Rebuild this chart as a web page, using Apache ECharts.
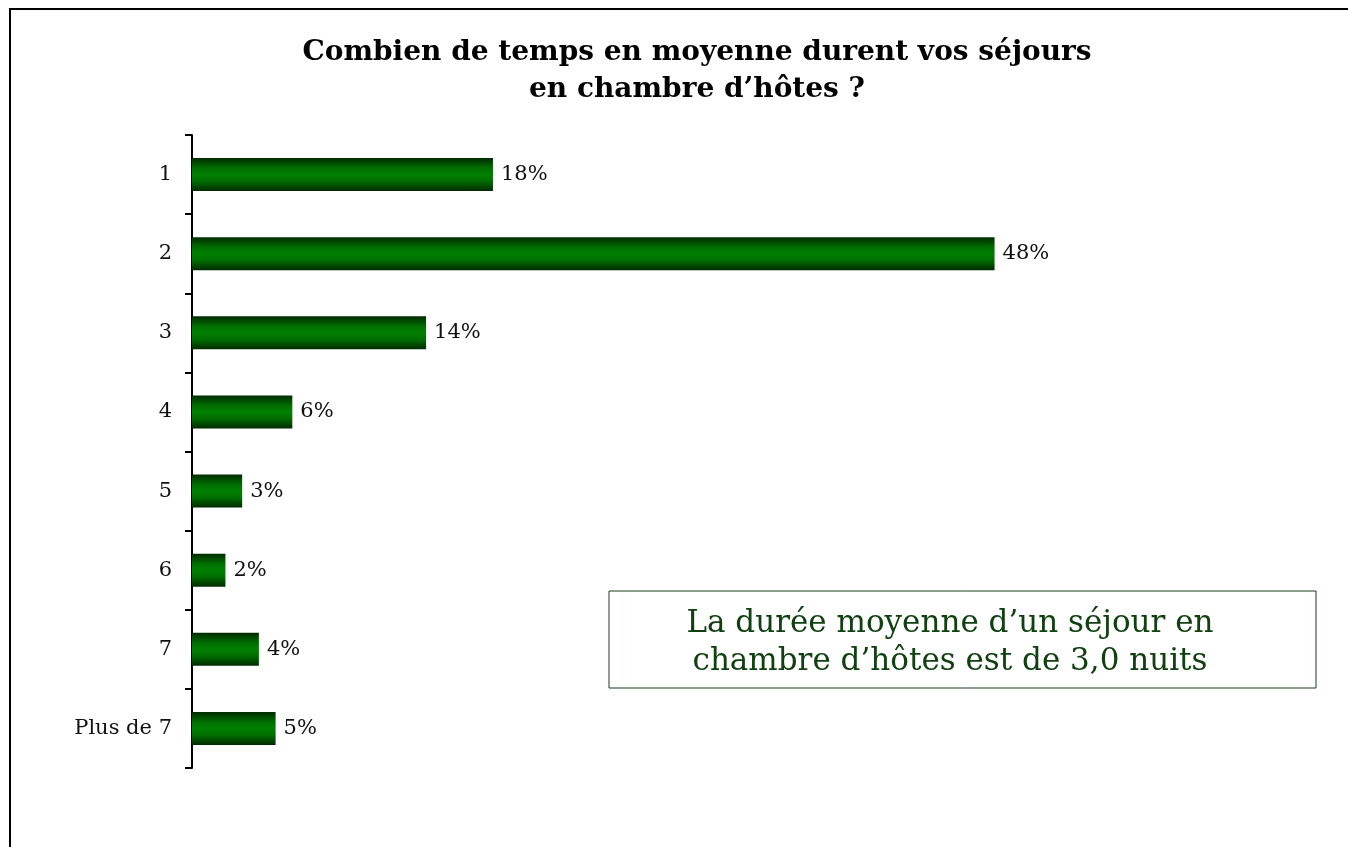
<!DOCTYPE html>
<html>
<head>
<meta charset="utf-8">
<script src="https://cdn.jsdelivr.net/npm/echarts@6/dist/echarts.min.js"></script>
<style>
  html, body { margin: 0; padding: 0; background: #fff; }
  #chart { width: 1348px; height: 847px; }
</style>
</head>
<body>
<div id="chart"></div>
<script>
// nights per stay
const categories = ['1', '2', '3', '4', '5', '6', '7', 'Plus de 7']
const shares = [18, 48, 14, 6, 3, 2, 4, 5]

const titleText = 'Combien de temps en moyenne durent vos séjours\nen chambre d’hôtes ?'
const noteText = 'La durée moyenne d’un séjour en\nchambre d’hôtes est de 3,0 nuits'

const chart = echarts.init(document.getElementById('chart'))

const barGradient = new echarts.graphic.LinearGradient(0, 0, 0, 1, [
  { offset: 0, color: '#002a00' },
  { offset: 0.3, color: '#006e00' },
  { offset: 0.5, color: '#008000' },
  { offset: 0.7, color: '#006e00' },
  { offset: 1, color: '#002a00' }
])

chart.setOption({
  backgroundColor: '#fff',
  animation: false,
  grid: {
    left: 192,
    top: 135,
    width: 836,
    height: 633
  },
  xAxis: {
    type: 'value',
    min: 0,
    max: 50,
    show: false
  },
  yAxis: {
    type: 'category',
    data: categories,
    inverse: true,
    axisLine: { lineStyle: { color: '#000', width: 2 } },
    axisTick: { show: true, length: 7, lineStyle: { color: '#000', width: 2 } },
    axisLabel: {
      color: '#111',
      fontFamily: 'DejaVu Serif',
      fontSize: 21,
      margin: 20
    },
    splitLine: { show: false }
  },
  series: [
    {
      type: 'bar',
      data: shares,
      barWidth: 33,
      itemStyle: { color: barGradient },
      label: {
        show: true,
        position: 'right',
        distance: 8,
        formatter: '{c}%',
        color: '#111',
        fontFamily: 'DejaVu Serif',
        fontSize: 21
      }
    }
  ],
  graphic: [
    {
      type: 'rect',
      silent: true,
      shape: { x: 10, y: 9, width: 1400, height: 900 },
      style: { fill: 'none', stroke: '#000', lineWidth: 2 }
    },
    {
      type: 'text',
      silent: true,
      x: 697,
      y: 34,
      style: {
        text: titleText,
        fill: '#000',
        font: 'bold 28px "DejaVu Serif"',
        textAlign: 'center',
        lineHeight: 37
      }
    },
    {
      type: 'rect',
      silent: true,
      shape: { x: 609, y: 591, width: 707, height: 97 },
      style: { fill: '#fff', stroke: '#1a3d1a', lineWidth: 1 }
    },
    {
      type: 'text',
      silent: true,
      x: 950,
      y: 605,
      style: {
        text: noteText,
        fill: '#114011',
        font: '31px "DejaVu Serif"',
        textAlign: 'center',
        lineHeight: 38
      }
    }
  ]
})
</script>
</body>
</html>
